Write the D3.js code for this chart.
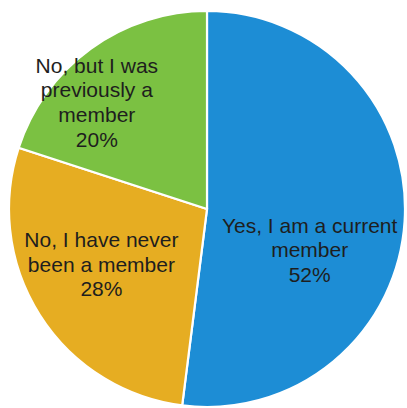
<!DOCTYPE html>
<html>
<head>
<meta charset="utf-8">
<script src="https://cdn.jsdelivr.net/npm/d3@7"></script>
<style>
  html, body { margin: 0; padding: 0; background: #fff; }
  svg { display: block; }
</style>
</head>
<body>
<svg id="pie" width="407" height="408"></svg>
<script>
// answers, in clockwise order from 12 o'clock
const categories = ["Yes, I am a current member", "No, I have never been a member", "No, but I was previously a member"];
const shares = [52, 28, 20];
// label lines as drawn in the picture
const labelLines = [
	["Yes, I am a current", "member", "52%"],
	["No, I have never", "been a member", "28%"],
	["No, but I was", "previously a", "member", "20%"]
];
const colors = ["#1d8dd5", "#e6ad22", "#7bc142"];

var svg = d3.select("#pie"),
	cx = 207,
	cy = 209,
	radius = 198;

var rows = categories.map(function (c, i) {
	return { name: c, value: shares[i], lines: labelLines[i] };
});

var pie = d3.pie().sort(null).value(function (d) { return d.value; });
var arc = d3.arc().innerRadius(0).outerRadius(radius);
var labelArc = d3.arc().innerRadius(radius * 0.56).outerRadius(radius * 0.56);

// excel "best fit" moves the labels off the plain centroid a bit
var nudge = [[-8, 34], [-12, -4], [-45, -17]];

var g = svg.append("g").attr("transform", "translate(" + cx + "," + cy + ")");

g.selectAll("path")
	.data(pie(rows))
	.enter()
	.append("path")
	.attr("d", arc)
	.attr("fill", function (d, i) { return colors[i]; })
	.attr("stroke", "#fff")
	.attr("stroke-width", 2.2);

var fontSize = 21,
	lineH = 24.7;

g.selectAll(".label")
	.data(pie(rows))
	.enter()
	.append("text")
	.attr("class", "label")
	.attr("text-anchor", "middle")
	.attr("font-family", "'Liberation Sans', Arial, sans-serif")
	.attr("font-size", fontSize + "px")
	.attr("fill", "#1e1e1e")
	.each(function (d, i) {
		var c = labelArc.centroid(d);
		var x = c[0] + nudge[i][0];
		var y = c[1] + nudge[i][1];
		var n = d.data.lines.length;
		var first = y - (n - 1) / 2 * lineH + fontSize * 0.35;
		d3.select(this)
			.selectAll("tspan")
			.data(d.data.lines)
			.enter()
			.append("tspan")
			.attr("x", x)
			.attr("y", function (t, k) { return first + k * lineH; })
			.text(function (t) { return t; });
	});
</script>
</body>
</html>
